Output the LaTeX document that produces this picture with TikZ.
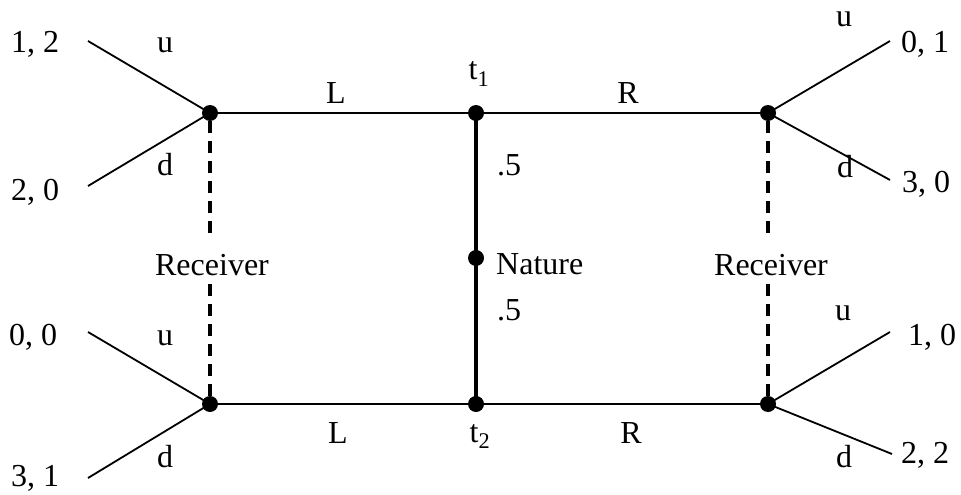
\documentclass[tikz,border=0pt]{standalone}
\usepackage{fontspec}
\setmainfont{Liberation Serif}
\begin{document}
\begin{tikzpicture}[x=1pt,y=-1pt,
  dot/.style={circle,fill=black,inner sep=0pt,minimum size=16pt},
  lbl/.style={inner sep=0pt,anchor=base,font=\fontsize{32}{38}\selectfont},
  lblw/.style={lbl,anchor=base west},
  thin/.style={line width=1.8pt},
  thick/.style={line width=3.8pt},
  dsh/.style={line width=3.6pt,dash pattern=on 12pt off 8pt}]
\useasboundingbox (0,0) rectangle (961,495);
% decision nodes
\node[dot] (LT) at (210,113) {};
\node[dot] (LB) at (210,404) {};
\node[dot] (T1) at (476,113) {};
\node[dot] (N)  at (476,258) {};
\node[dot] (T2) at (476,404) {};
\node[dot] (RT) at (768,113) {};
\node[dot] (RB) at (768,404) {};
% terminal ends
\coordinate (LTu) at (88,41);
\coordinate (LTd) at (88,186);
\coordinate (LBu) at (88,332);
\coordinate (LBd) at (88,478);
\coordinate (RTu) at (890,41);
\coordinate (RTd) at (890,180);
\coordinate (RBu) at (890,332);
\coordinate (RBd) at (892,454);
% gaps in information sets
\coordinate (LG1) at (210,235);
\coordinate (LG2) at (210,284);
\coordinate (RG1) at (768,235);
\coordinate (RG2) at (768,284);
% edges
\draw[thin] (LT.center) -- (T1.center) -- (RT.center);
\draw[thin] (LB.center) -- (T2.center) -- (RB.center);
\draw[thick] (T1.center) -- (N.center) -- (T2.center);
\draw[dsh] (LT) -- (LG1);
\draw[dsh] (LG2) -- (LB);
\draw[dsh] (RT) -- (RG1);
\draw[dsh] (RG2) -- (RB);
\draw[thin] (LTu) -- (LT.center) -- (LTd);
\draw[thin] (LBu) -- (LB.center) -- (LBd);
\draw[thin] (RTu) -- (RT.center) -- (RTd);
\draw[thin] (RBu) -- (RB.center) -- (RBd);
% payoffs
\node[lblw] (p1) at (11,53) {1, 2};
\node[lblw] (p2) at (11,200) {2, 0};
\node[lblw] (p3) at (9,345) {0, 0};
\node[lblw] (p4) at (11,486) {3, 1};
\node[lblw] (p5) at (901,53) {0, 1};
\node[lblw] (p6) at (902,192) {3, 0};
\node[lblw] (p7) at (908,345) {1, 0};
\node[lblw] (p8) at (901,463) {2, 2};
% action labels
\node[lbl] (u1) at (165,53) {u};
\node[lbl] (d1) at (165,175) {d};
\node[lbl] (u2) at (165,345) {u};
\node[lbl] (d2) at (165,467) {d};
\node[lbl] (u3) at (844,27) {u};
\node[lbl] (d3) at (845,177) {d};
\node[lbl] (u4) at (843,320) {u};
\node[lbl] (d4) at (844,467) {d};
\node[lbl] (L1) at (336,103) {L};
\node[lbl] (R1) at (628,103) {R};
\node[lbl] (L2) at (338,443) {L};
\node[lbl] (R2) at (631,443) {R};
\node[lbl] (t1) at (479,80) {t\textsubscript{1}};
\node[lbl] (t2) at (480,442) {t\textsubscript{2}};
\node[lblw] (h1) at (497,175) {.5};
\node[lblw] (h2) at (497,320) {.5};
\node[lblw] (nat) at (496,274) {Nature};
\node[lbl] (rc1) at (212,275) {Receiver};
\node[lbl] (rc2) at (771,275) {Receiver};
\end{tikzpicture}
\end{document}
